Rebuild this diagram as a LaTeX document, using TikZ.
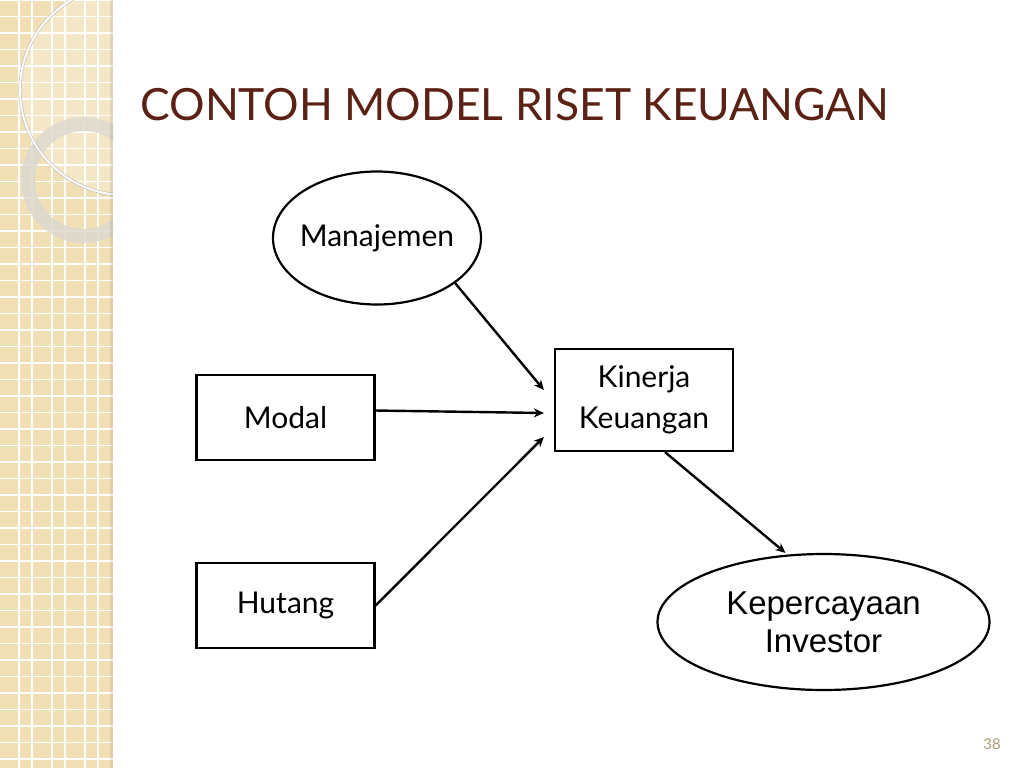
\documentclass[tikz,border=0pt]{standalone}
\usepackage{fontspec}
\setmainfont{Lato}
\newfontfamily\arialfont{Liberation Sans}
\usetikzlibrary{shapes.geometric,arrows.meta,calc}

\definecolor{stripbg}{HTML}{F1DFB6}
\definecolor{titlebrown}{HTML}{5A2114}
\definecolor{ringgray}{HTML}{DDD9CF}
\definecolor{pagetan}{HTML}{A89D74}

\tikzset{
    box/.style={draw, line width=1.1pt, minimum width=89pt, minimum height=42.5pt, align=center, font=\fontsize{15}{20.5}\selectfont},
    oval/.style={draw, ellipse, line width=1.1pt, inner sep=0pt, align=center},
    link/.style={-{Stealth[length=5pt,width=4.5pt]}, line width=1.2pt},
}

\begin{document}
\begin{tikzpicture}[x=0.5pt, y=-0.5pt]
    \useasboundingbox (0,0) rectangle (1024,768);

    % Background strip on the left
    \begin{scope}
        \clip (0,0) rectangle (113,768);
        \fill[stripbg] (0,0) rectangle (113,768);
        \foreach \gx in {19,32,52,65,85,98} {
            \draw[white, line width=0.8pt] (\gx,0) -- (\gx,768);
        }
        \foreach \gy in {0,16.5,...,768} {
            \draw[white, line width=0.8pt] (0,\gy) -- (113,\gy);
        }
        \fill[white, opacity=0.25] (125,90) circle (105);
        \draw[ringgray, opacity=0.85, line width=7pt] (84,180) circle (56);
        \draw[black!25, line width=1.6pt] (125,90) circle (105);
        \draw[white!90!stripbg, line width=1pt] (125,90) circle (105);
    \end{scope}
    \fill[black, opacity=0.08] (110,0) rectangle (113,768);

    % Title
    \node[anchor=base west, inner sep=0pt, text=titlebrown, font=\fontsize{22.2}{26}\selectfont] (title) at (140,120) {CONTOH MODEL RISET KEUANGAN};

    % Define the positions of the nodes
    \node[oval, inner xsep=-6pt, minimum width=104pt, minimum height=66.5pt, font=\fontsize{15}{19}\selectfont] (man) at (377,238) {Manajemen};
    \node[box, minimum height=51pt] (kin) at (644,400) {Kinerja\\Keuangan};
    \node[box] (modal) at (285.5,417.5) {Modal};
    \node[box] (hut) at (285.5,605.5) {Hutang};
    \node[oval, minimum width=166pt, minimum height=68pt, font=\arialfont\fontsize{16.5}{19}\selectfont] (kep) at (823.5,622) {Kepercayaan\\Investor};

    % Draw the edges
    \draw[link] (man.-30) -- ($(kin.west)+(-10,-10)$);
    \draw[link] ($(modal.east)+(0,-7)$) -- ($(kin.west)+(-10,13)$);
    \draw[link] (hut.east) -- ($(kin.west)+(-10,37)$);
    \draw[link] ($(kin.south)+(21,0)$) -- ($(kep.north)+(-38,0)$);

    % Page number
    \node[text=pagetan, font=\fontsize{7.5}{9}\selectfont] (num) at (992,744) {38};
\end{tikzpicture}
\end{document}
